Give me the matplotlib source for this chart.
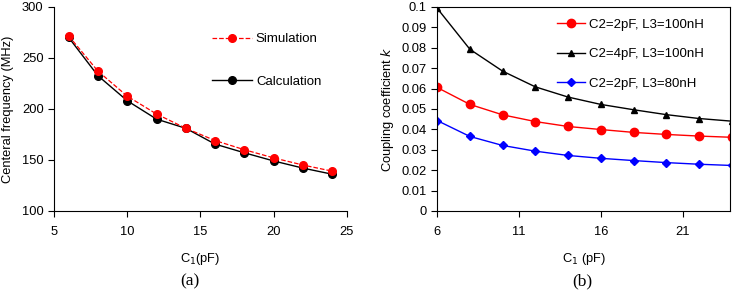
import numpy as np
import matplotlib.pyplot as plt

plt.rcParams['font.family'] = ['Liberation Sans', 'DejaVu Sans']

# panel (a): central frequency versus C1
c1_a = [6, 8, 10, 12, 14, 16, 18, 20, 22, 24]
f_sim = [271.5, 237, 212.5, 195, 181, 169, 160, 152, 145, 139]
f_calc = [270, 232.5, 208, 190, 181, 165.5, 157, 149, 142, 136]

# panel (b): coupling coefficient k versus C1
c1_b = [6, 8, 10, 12, 14, 16, 18, 20, 22, 24]
k_2p_100n = [0.0605, 0.0522, 0.0471, 0.0438, 0.0414, 0.0399, 0.0385, 0.0375, 0.0367, 0.0361]
k_4p_100n = [0.0993, 0.0792, 0.0685, 0.0608, 0.0558, 0.0522, 0.0496, 0.0472, 0.0453, 0.0440]
k_2p_80n = [0.0443, 0.0365, 0.0321, 0.0293, 0.0272, 0.0258, 0.0247, 0.0237, 0.0229, 0.0223]

fig = plt.figure(figsize=(7.36, 2.98), dpi=100)
ax1 = fig.add_axes([0.0734, 0.292, 0.398, 0.685])
ax2 = fig.add_axes([0.594, 0.292, 0.398, 0.685])

tick_fs = 9.3

# (a)
ax1.plot(c1_a, f_sim, color='red', ls='--', lw=0.9, marker='o', ms=5.5,
         label='Simulation', zorder=3)
ax1.plot(c1_a, f_calc, color='black', ls='-', lw=1.0, marker='o', ms=5.5,
         label='Calculation', zorder=2)
ax1.set_xlim(5, 25)
ax1.set_ylim(100, 300)
ax1.set_xticks([5, 10, 15, 20, 25])
ax1.set_yticks([100, 150, 200, 250, 300])
for s in ['top', 'right']:
    ax1.spines[s].set_visible(False)
ax1.tick_params(direction='out', length=4, width=0.8, labelsize=tick_fs)
ax1.tick_params(axis='x', pad=7)
ax1.set_xlabel('C$_1$(pF)', fontsize=tick_fs, labelpad=9)
ax1.set_ylabel('Centeral frequency (MHz)', fontsize=tick_fs, labelpad=6)
ax1.legend(loc='upper left', bbox_to_anchor=(0.5, 0.93), frameon=False,
           fontsize=9.5, labelspacing=2.3, handlelength=3.0, handletextpad=0.3)

# (b)
ax2.plot(c1_b, k_2p_100n, color='red', lw=1.0, marker='o', ms=6,
         label='C2=2pF, L3=100nH')
ax2.plot(c1_b, k_4p_100n, color='black', lw=1.0, marker='^', ms=4,
         label='C2=4pF, L3=100nH')
ax2.plot(c1_b, k_2p_80n, color='blue', lw=1.0, marker='D', ms=4,
         label='C2=2pF, L3=80nH')
ax2.set_xlim(6, 23.9)
ax2.set_ylim(0, 0.1)
ax2.set_xticks([6, 11, 16, 21])
ax2.set_yticks(np.arange(0, 0.101, 0.01))
ax2.set_yticklabels(['0', '0.01', '0.02', '0.03', '0.04', '0.05', '0.06',
                     '0.07', '0.08', '0.09', '0.1'])
ax2.tick_params(direction='out', length=4, width=0.8, labelsize=tick_fs)
ax2.tick_params(axis='x', pad=7)
ax2.set_xlabel('C$_1$ (pF)', fontsize=tick_fs, labelpad=9)
ax2.set_ylabel('Coupling coefficient $k$', fontsize=tick_fs, labelpad=4)
ax2.legend(loc='upper right', bbox_to_anchor=(0.95, 1.0), frameon=False,
           fontsize=9.5, labelspacing=1.3, handlelength=2.1, handletextpad=0.3)

fig.text(0.258, 0.057, '(a)', family='Liberation Serif', fontsize=12.5,
         ha='center', va='center')
fig.text(0.791, 0.057, '(b)', family='Liberation Serif', fontsize=12.5,
         ha='center', va='center')

fig.savefig('out.png', dpi=100)
